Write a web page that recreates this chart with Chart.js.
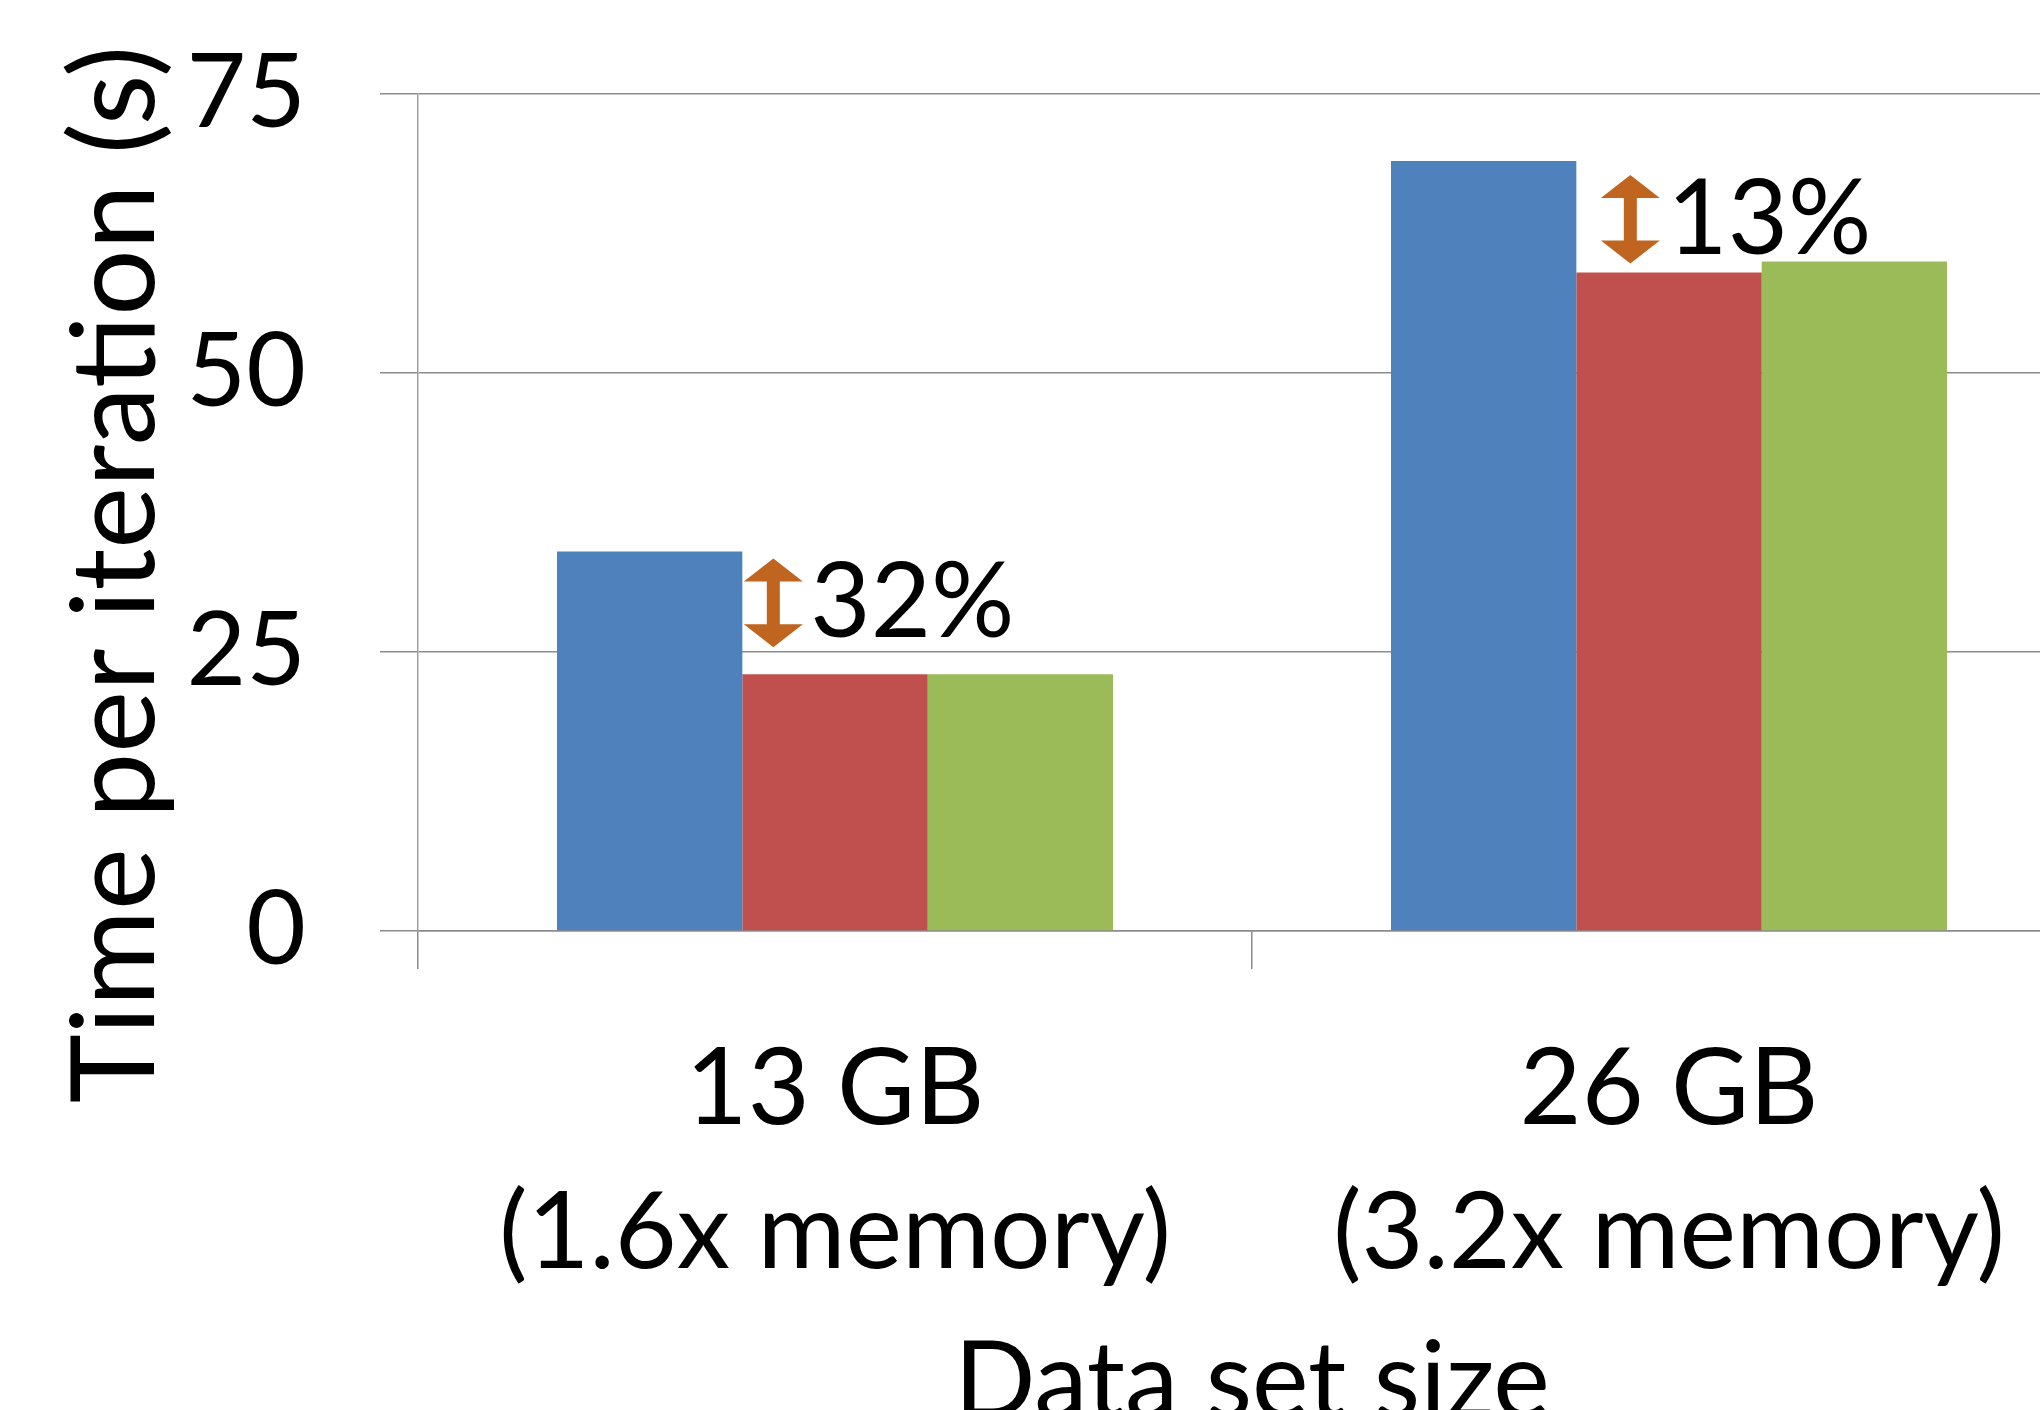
<!DOCTYPE html>
<html>
<head>
<meta charset="utf-8">
<title>Time per iteration by data set size</title>
<script src="https://cdn.jsdelivr.net/npm/chart.js@4.4.1/dist/chart.umd.min.js"></script>
<style>
  html, body { margin: 0; padding: 0; background: #ffffff; overflow: hidden; }
  #wrap { width: 2040px; height: 1410px; overflow: hidden; position: relative; }
  canvas { display: block; }
</style>
</head>
<body>
<div id="wrap"><canvas id="chart" width="2100" height="1460"></canvas></div>
<script>
// ---- data ----
const categories = [['13 GB', '(1.6x memory)'], ['26 GB', '(3.2x memory)']];
const seriesA = [34, 69];   // blue
const seriesB = [23, 59];   // red
const seriesC = [23, 60];   // green
const yTickValues = [0, 25, 50, 75];
const gapLabels = ['32%', '13%'];
const yTitleText = 'Time per iteration (s)';
const xTitleText = 'Data set size';

const FONT = 'Lato';
const GRID = '#8c8c8c';

// Double-headed arrow with a percentage, placed between the first two bars of each group
const gapArrows = {
  id: 'gapArrows',
  afterDatasetsDraw(chart, args, o) {
    const ctx = chart.ctx;
    const first = chart.getDatasetMeta(0).data;
    const second = chart.getDatasetMeta(1).data;
    gapLabels.forEach((txt, i) => {
      const hi = first[i], lo = second[i];
      const cx = lo.x - lo.width / 2 + o.dx[i];
      const top = hi.y + o.dyTop[i];
      const bot = lo.y - o.dyBottom[i];
      const hw = o.headWidth / 2, hh = o.headHeight, sw = o.shaftWidth / 2;
      ctx.save();
      ctx.fillStyle = o.color;
      ctx.beginPath();
      ctx.moveTo(cx, top);
      ctx.lineTo(cx + hw, top + hh);
      ctx.lineTo(cx + sw, top + hh);
      ctx.lineTo(cx + sw, bot - hh);
      ctx.lineTo(cx + hw, bot - hh);
      ctx.lineTo(cx, bot);
      ctx.lineTo(cx - hw, bot - hh);
      ctx.lineTo(cx - sw, bot - hh);
      ctx.lineTo(cx - sw, top + hh);
      ctx.lineTo(cx - hw, top + hh);
      ctx.closePath();
      ctx.fill();
      ctx.fillStyle = '#000000';
      ctx.font = o.fontSize + 'px ' + FONT;
      ctx.textAlign = 'left';
      ctx.textBaseline = 'alphabetic';
      ctx.fillText(txt, cx + o.labelGap, bot - o.labelLift);
      ctx.restore();
    });
  }
};

// Axis titles
const axisTitles = {
  id: 'axisTitles',
  afterDraw(chart, args, o) {
    const ctx = chart.ctx, ca = chart.chartArea;
    ctx.save();
    ctx.fillStyle = '#000000';
    ctx.textAlign = 'center';
    ctx.textBaseline = 'alphabetic';
    ctx.save();
    ctx.font = o.yFontSize + 'px ' + FONT;
    ctx.translate(o.yBaselineX, (ca.top + ca.bottom) / 2 + o.yShift);
    ctx.rotate(-Math.PI / 2);
    ctx.fillText(yTitleText, 0, 0);
    ctx.restore();
    ctx.font = o.xFontSize + 'px ' + FONT;
    ctx.fillText(xTitleText, (ca.left + ca.right) / 2, o.xBaselineY);
    ctx.restore();
  }
};

function build() {
  const ctx = document.getElementById('chart').getContext('2d');
  new Chart(ctx, {
    type: 'bar',
    data: {
      labels: categories,
      datasets: [
        { data: seriesA, backgroundColor: '#4f81bd' },
        { data: seriesB, backgroundColor: '#c0504d' },
        { data: seriesC, backgroundColor: '#9bbb59' }
      ]
    },
    options: {
      responsive: false,
      animation: false,
      devicePixelRatio: 1,
      layout: { padding: { top: 94, right: 14, bottom: 0, left: 0 } },
      datasets: { bar: { categoryPercentage: 2 / 3, barPercentage: 1, borderWidth: 0 } },
      plugins: {
        legend: { display: false },
        tooltip: { enabled: false },
        gapArrows: {
          color: '#c0651f',
          dx: [31, 54],
          dyTop: [7, 14],
          dyBottom: [27, 9],
          headWidth: 59,
          headHeight: 23,
          shaftWidth: 13,
          labelGap: 37,
          labelLift: 10,
          fontSize: 104
        },
        axisTitles: {
          yFontSize: 117,
          yBaselineX: 154,
          yShift: 62,
          xFontSize: 107,
          xBaselineY: 1417
        }
      },
      scales: {
        x: {
          afterFit(s) { s.height = 529; s.paddingLeft = 0; s.paddingRight = 0; },
          grid: { display: true, drawOnChartArea: false, drawTicks: true, tickLength: 38, color: GRID, lineWidth: 1.5, offset: true },
          border: { display: true, color: GRID, width: 1.5 },
          ticks: {
            color: '#000000',
            font: { family: FONT, size: 107, lineHeight: 1.34 },
            padding: 49,
            maxRotation: 0,
            autoSkip: false
          }
        },
        y: {
          min: 0,
          max: 75,
          afterFit(s) { s.width = 418; s.paddingTop = 0; s.paddingBottom = 0; },
          afterBuildTicks(s) { s.ticks = yTickValues.map(v => ({ value: v })); },
          grid: { display: true, drawOnChartArea: true, drawTicks: true, tickLength: 38, color: GRID, lineWidth: 1.5 },
          border: { display: true, color: '#a0a0a0', width: 1.5 },
          ticks: {
            color: '#000000',
            font: { family: FONT, size: 103 },
            padding: 74
          }
        }
      }
    },
    plugins: [gapArrows, axisTitles]
  });
}

if (document.fonts && document.fonts.load) {
  Promise.all([document.fonts.load('100px Lato')]).then(build, build);
} else {
  build();
}
</script>
</body>
</html>
